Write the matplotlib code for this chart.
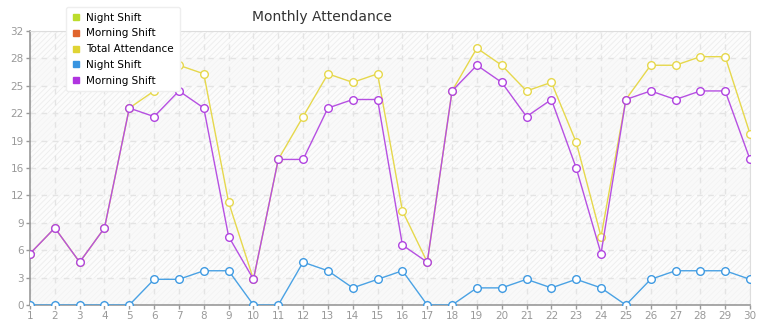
"""Monthly attendance line chart."""
import matplotlib
matplotlib.use("Agg")
import matplotlib.pyplot as plt
from matplotlib.lines import Line2D
import numpy as np

DAYS = list(range(1, 31))
NIGHT = [0, 0, 0, 0, 0, 3, 3, 4, 4, 0, 0, 5, 4, 2, 3,
         4, 0, 0, 2, 2, 3, 2, 3, 2, 0, 3, 4, 4, 4, 3]
MORNING = [6, 9, 5, 9, 23, 22, 25, 23, 8, 3, 17, 17, 23, 24, 24,
           7, 5, 25, 28, 26, 22, 24, 16, 6, 24, 25, 24, 25, 25, 17]
TOTAL = [6, 9, 5, 9, 23, 25, 28, 27, 12, 3, 17, 22, 27, 26, 27,
         11, 5, 25, 30, 28, 25, 26, 19, 8, 24, 28, 28, 29, 29, 20]

LEGEND = [
    ("Night Shift", "#bcdc2c"),
    ("Morning Shift", "#e0642c"),
    ("Total Attendance", "#e0d434"),
    ("Night Shift", "#3894e0"),
    ("Morning Shift", "#b034e0"),
]

plt.rcParams["hatch.linewidth"] = 0.6

W, H = 765, 320
fig = plt.figure(figsize=(W / 100, H / 100), dpi=100)
ax = fig.add_axes([30 / W, 15 / H, 720 / W, 274 / H])

ymax = 32
yticks = np.linspace(0, ymax, 11)

# background: faint hatch, every other band a bit flatter
ax.axhspan(0, ymax, facecolor="#fcfcfc", edgecolor="#ededed",
           hatch="//////", linewidth=0, zorder=0)
for i in range(0, 10, 2):
    ax.axhspan(yticks[i], yticks[i + 1], facecolor="#f8f8f8",
               linewidth=0, alpha=0.6, zorder=0.5)

ax.grid(True, color="#e4e4e4", linestyle=(0, (4, 4)), linewidth=1, zorder=1)

mk = dict(marker="o", markersize=5.5, markerfacecolor="white",
          markeredgewidth=1.0, linewidth=1.0, zorder=3)
ax.plot(DAYS, TOTAL, color="#e6d84c", markeredgecolor="#e6d84c", **mk)
ax.plot(DAYS, NIGHT, color="#4aa2e4", markeredgecolor="#3f9ae2", **mk)
ax.plot(DAYS, MORNING, color="#b650e2", markeredgecolor="#b044e0", **mk)

ax.set_xlim(1, 30)
ax.set_ylim(0, ymax)
ax.set_xticks(DAYS)
ax.set_yticks(yticks)
ax.set_yticklabels([str(int(v)) for v in yticks])
ax.set_axisbelow(True)
for s in ["top", "right"]:
    ax.spines[s].set_color("#dddddd")
for s in ["left", "bottom"]:
    ax.spines[s].set_color("#999999")
    ax.spines[s].set_linewidth(1.2)
ax.tick_params(colors="#999999", labelcolor="#999999", labelsize=7.5,
               length=3, width=1, pad=1.5)

fig.text(322 / W, 1 - 17 / H, "Monthly Attendance", ha="center",
         va="center", fontsize=10, color="#333333")

handles = [Line2D([], [], marker="s", linestyle="none", markersize=4.5,
                  color=c) for _, c in LEGEND]
leg = fig.legend(handles, [n for n, _ in LEGEND], loc="upper left",
                 bbox_to_anchor=(66 / W, 1 - 7 / H), frameon=True,
                 fontsize=7.5, handlelength=0.8, handletextpad=0.6,
                 labelspacing=0.55, borderaxespad=0, borderpad=0.55,
                 fancybox=True, facecolor="white", edgecolor="#eeeeee",
                 framealpha=1)
leg.set_zorder(10)

fig.savefig("out.png", dpi=100)
